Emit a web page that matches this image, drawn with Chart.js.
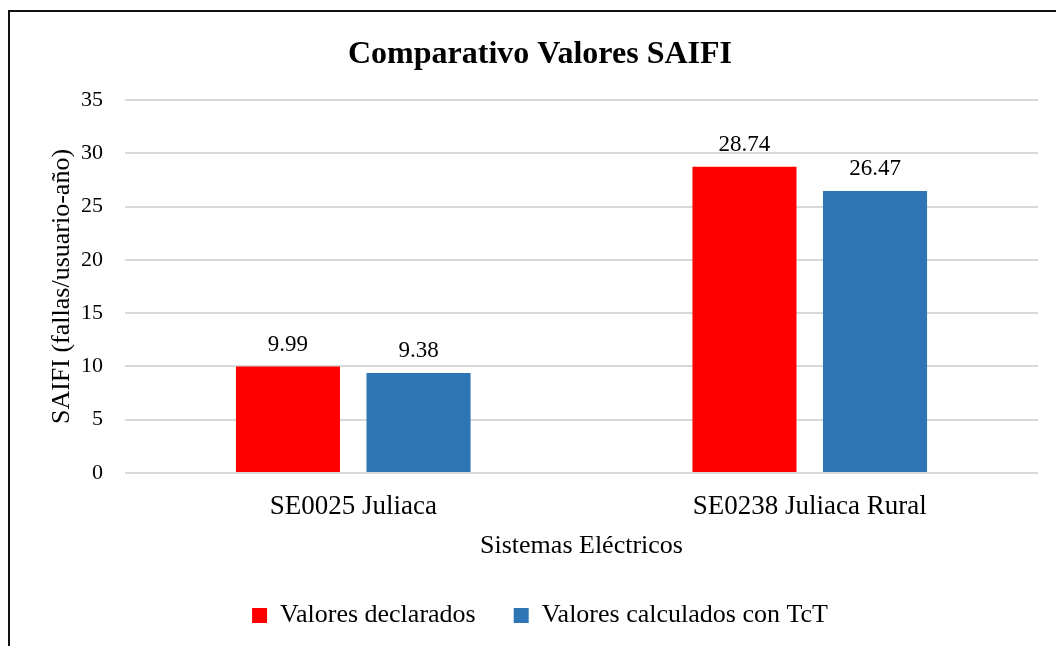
<!DOCTYPE html>
<html lang="es">
<head>
<meta charset="utf-8">
<title>Comparativo Valores SAIFI</title>
<script src="https://cdn.jsdelivr.net/npm/chart.js@4.4.1/dist/chart.umd.min.js"></script>
<style>
  html, body { margin: 0; padding: 0; background: #fff; overflow: hidden; }
  body { width: 1056px; height: 646px; position: relative; }
  /* marco del grafico: solo se ven el borde superior e izquierdo */
  #frame {
    position: absolute; left: 8px; top: 10px;
    width: 1060px; height: 640px;
    border-top: 2px solid #111; border-left: 2px solid #111;
  }
  #chart { display: block; }
</style>
</head>
<body>
<div id="frame">
  <canvas id="chart" width="1060" height="634"></canvas>
</div>
<script>
// Datos
const categorias = ["SE0025 Juliaca", "SE0238 Juliaca Rural"];
const declarados = [9.99, 28.74];
const calculados = [9.38, 26.47];
const serieNombres = ["Valores declarados", "Valores calculados con TcT"];
const ejeY = { min: 0, max: 35, paso: 5 };

const FONT = "'Liberation Serif', 'Times New Roman', serif";

// Etiquetas de valor encima de cada barra
const valorEtiquetas = {
  id: "valorEtiquetas",
  afterDatasetsDraw(chart) {
    const ctx = chart.ctx;
    ctx.save();
    ctx.font = `23px ${FONT}`;
    ctx.fillStyle = "#000";
    ctx.textAlign = "center";
    ctx.textBaseline = "alphabetic";
    chart.data.datasets.forEach((ds, i) => {
      chart.getDatasetMeta(i).data.forEach((bar, j) => {
        ctx.fillText(ds.data[j].toFixed(2), bar.x, bar.y - 16);
      });
    });
    ctx.restore();
  },
};

new Chart(document.getElementById("chart"), {
  type: "bar",
  data: {
    labels: categorias,
    datasets: [
      { label: serieNombres[0], data: declarados, backgroundColor: "#FF0000",
        categoryPercentage: 0.572, barPercentage: 0.797 },
      { label: serieNombres[1], data: calculados, backgroundColor: "#2E75B6",
        categoryPercentage: 0.572, barPercentage: 0.797 },
    ],
  },
  options: {
    responsive: false,
    animation: false,
    layout: { padding: { left: 32, right: 32, top: 0, bottom: 7.4 } },
    scales: {
      x: {
        grid: { display: false, drawTicks: false },
        border: { display: false },
        ticks: { color: "#000", padding: 18, font: { family: FONT, size: 27 } },
        // el padding de los ticks cuenta doble en la altura del eje; se compensa aqui
        title: {
          display: true, text: "Sistemas Eléctricos", color: "#000",
          padding: { top: -11, bottom: 3 }, font: { family: FONT, size: 26 },
        },
      },
      y: {
        min: ejeY.min, max: ejeY.max,
        grid: { color: "#D9D9D9", lineWidth: 2, drawTicks: false },
        border: { display: false },
        ticks: { stepSize: ejeY.paso, color: "#000", padding: 22,
                 font: { family: FONT, size: 22 } },
        title: {
          display: true, text: "SAIFI (fallas/usuario-año)", color: "#000",
          padding: { top: 5, bottom: 4 }, font: { family: FONT, size: 26 },
        },
        afterFit(scale) { scale.width = 83; },
      },
    },
    plugins: {
      title: {
        display: true, text: "Comparativo Valores SAIFI", color: "#000",
        padding: { top: 24, bottom: 25.6 },
        font: { family: FONT, size: 32, weight: "bold" },
      },
      legend: {
        position: "bottom",
        labels: {
          color: "#000", boxWidth: 15, boxHeight: 15, padding: 38,
          font: { family: FONT, size: 26 },
        },
      },
      tooltip: { enabled: false },
    },
  },
  plugins: [valorEtiquetas],
});
</script>
</body>
</html>
